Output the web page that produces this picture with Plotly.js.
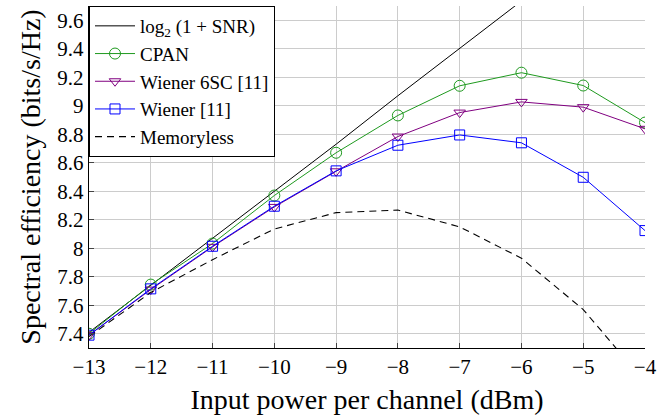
<!DOCTYPE html>
<html>
<head>
<meta charset="utf-8">
<script src="https://cdn.plot.ly/plotly-3.0.1.min.js"></script>
<style>html,body{margin:0;padding:0;background:#fff;}#chart{width:659px;height:415px;}</style>
</head>
<body>
<div id="chart"></div>
<script>
// Input power per channel (dBm)
const power = [-13, -12, -11, -10, -9, -8, -7, -6, -5, -4];
// Spectral efficiency (bits/s/Hz)
const shannon    = [7.41, 7.74, 8.07, 8.40, 8.73, 9.07, 9.40, 9.73, 10.06, 10.40];
const cpan       = [7.40, 7.745, 8.033, 8.37, 8.67, 8.932, 9.14, 9.232, 9.142, 8.882];
const wiener6sc  = [7.39, 7.71, 8.01, 8.29, 8.54, 8.784, 8.952, 9.027, 8.99, 8.838];
const wiener     = [7.39, 7.715, 8.014, 8.295, 8.543, 8.723, 8.795, 8.74, 8.498, 8.124];
const memoryless = [7.38, 7.69, 7.92, 8.135, 8.25, 8.268, 8.15, 7.93, 7.57, 7.06];

const xTicks = [-13, -12, -11, -10, -9, -8, -7, -6, -5, -4];
const yTicks = [7.4, 7.6, 7.8, 8.0, 8.2, 8.4, 8.6, 8.8, 9.0, 9.2, 9.4, 9.6];
const yTickText = ['7.4', '7.6', '7.8', '8', '8.2', '8.4', '8.6', '8.8', '9', '9.2', '9.4', '9.6'];

const serif = "'Liberation Serif', 'DejaVu Serif', serif";

const traces = [
  {x: power, y: shannon, name: 'log<sub>2</sub> (1 + SNR)', mode: 'lines',
   line: {color: '#000000', width: 1}, legendgroup: 'a'},
  {x: power, y: cpan, name: 'CPAN', mode: 'lines+markers',
   line: {color: '#1f9a1f', width: 1},
   marker: {symbol: 'circle-open', size: 11, color: '#1f9a1f', line: {width: 1}}, legendgroup: 'b'},
  {x: power, y: wiener6sc, name: 'Wiener 6SC [11]', mode: 'lines+markers',
   line: {color: '#800080', width: 1},
   marker: {symbol: 'triangle-down-open', size: 10, color: '#800080', line: {width: 1}}, legendgroup: 'c'},
  {x: power, y: wiener, name: 'Wiener [11]', mode: 'lines+markers',
   line: {color: '#0000ff', width: 1},
   marker: {symbol: 'square-open', size: 10, color: '#0000ff', line: {width: 1}}, legendgroup: 'd'},
  {x: power, y: memoryless, name: 'Memoryless', mode: 'lines',
   line: {color: '#000000', width: 1.1, dash: '7px,5px'}, legendgroup: 'e'}
];

const layout = {
  width: 659, height: 415,
  margin: {l: 89, r: 14, t: 6, b: 67},
  paper_bgcolor: '#ffffff', plot_bgcolor: '#ffffff',
  font: {family: serif, color: '#000000', size: 21},
  showlegend: true,
  legend: {
    x: 0, y: 1, xanchor: 'left', yanchor: 'top',
    bgcolor: '#ffffff', bordercolor: '#000000', borderwidth: 1,
    font: {family: serif, size: 19, color: '#000000'},
    traceorder: 'grouped', tracegroupgap: 0, itemwidth: 40
  },
  xaxis: {
    range: [-13, -4], tickvals: xTicks,
    ticks: 'inside', ticklen: 5, tickcolor: '#444444',
    showgrid: true, gridcolor: '#cccccc', gridwidth: 1,
    showline: true, linecolor: '#000000', linewidth: 1.2, mirror: false,
    zeroline: false,
    tickfont: {family: serif, size: 21},
    title: {text: 'Input power per channel (dBm)', font: {family: serif, size: 28}, standoff: 12}
  },
  yaxis: {
    range: [7.3, 9.7], tickvals: yTicks, ticktext: yTickText,
    ticks: 'inside', ticklen: 5, tickcolor: '#444444',
    showgrid: true, gridcolor: '#cccccc', gridwidth: 1,
    showline: true, linecolor: '#000000', linewidth: 1.2, mirror: false,
    zeroline: false,
    tickfont: {family: serif, size: 21},
    title: {text: 'Spectral efficiency (bits/s/Hz)', font: {family: serif, size: 28}, standoff: 8}
  }
};

Plotly.newPlot('chart', traces, layout, {displayModeBar: false, staticPlot: true});
</script>
</body>
</html>
